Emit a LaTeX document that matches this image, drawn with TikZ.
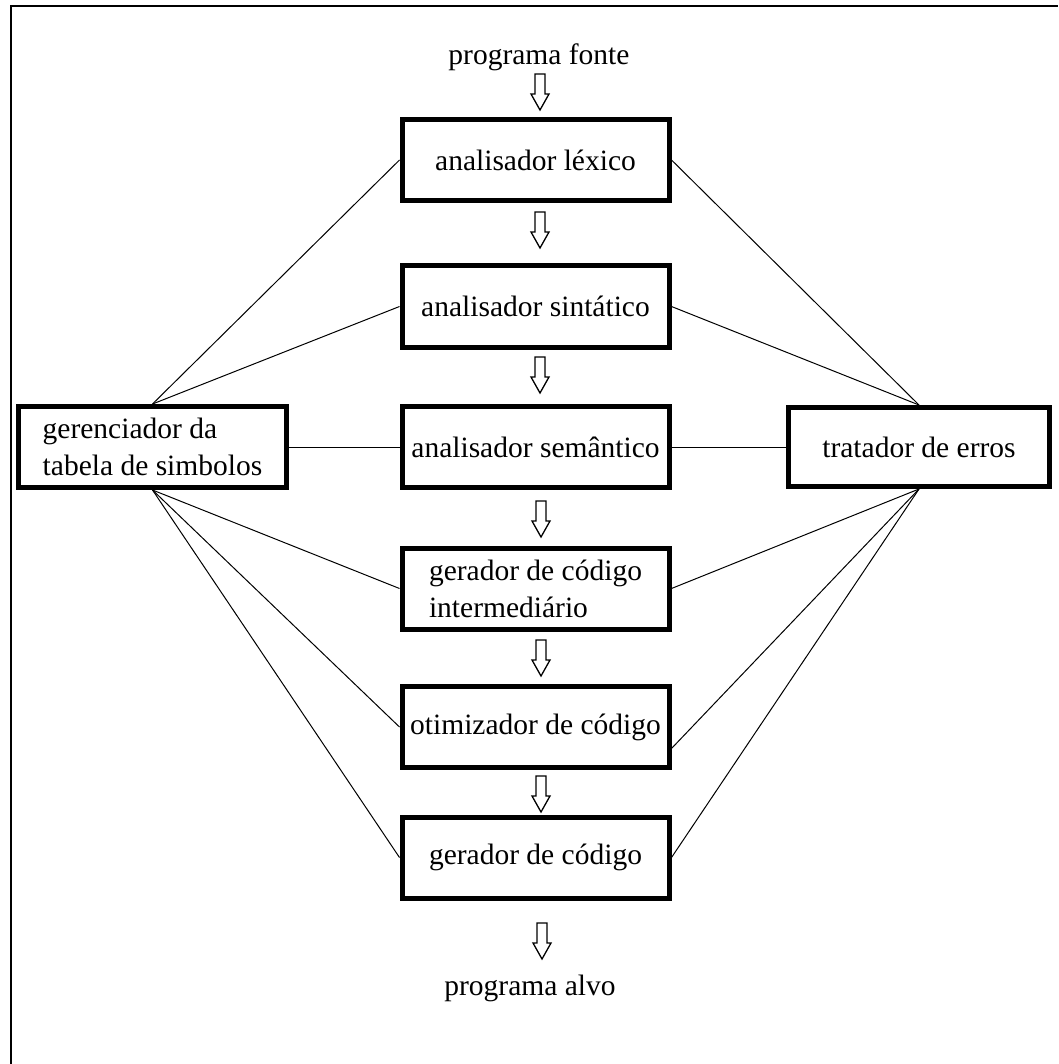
\documentclass[tikz,border=0pt]{standalone}
\usepackage{fontspec}
\setmainfont{Liberation Serif}
\usetikzlibrary{calc}
\begin{document}
\begin{tikzpicture}[x=1pt,y=-1pt,
  every node/.style={font=\fontsize{29.5}{37}\selectfont},
  stage/.style={draw, line width=5pt, minimum width=267pt, minimum height=81pt, inner sep=0pt, align=left},
  side/.style={draw, line width=5pt, minimum height=81pt, inner sep=0pt, align=left},
  label/.style={inner sep=0pt, anchor=base},
  link/.style={line width=1pt},
  frame/.style={line width=2pt},
  downarr/.pic={\draw[line width=1.3pt, fill=white] (-5,0) -- (-5,20) -- (-9,20) -- (0,36) -- (9,20) -- (5,20) -- (5,0) -- cycle;}
]
\useasboundingbox (0,0) rectangle (1058,1064);
\draw[frame] (10.5,1064) -- (10.5,6.5) -- (1058,6.5);

\node[label] (src) at (539,65) {programa fonte};
\node[stage] (lex) at (535.5,160) {analisador léxico};
\node[stage] (sin) at (535.5,306.5) {analisador sintático};
\node[stage] (sem) at (535.5,447) {analisador semântico};
\node[stage] (gci) at (535.5,588.5) {gerador de código\\intermediário};
\node[stage] (opt) at (535.5,727) {otimizador de código};
\node[stage] (gc) at (535.5,857.5) {gerador de código};
\node[label] (dst) at (530,995) {programa alvo};

\node[side, minimum width=268pt] (ger) at (152.5,447) {gerenciador da\\tabela de simbolos};
\node[side, minimum width=261pt, minimum height=79pt] (trat) at (919,447) {tratador de erros};

\pic at (540,74) {downarr};
\pic at (540,212) {downarr};
\pic at (540,357) {downarr};
\pic at (541,501) {downarr};
\pic at (541,640) {downarr};
\pic at (541,776) {downarr};
\pic at (542,923) {downarr};

\draw[link] (ger.north) -- (lex.west);
\draw[link] (ger.north) -- (sin.west);
\draw[link] (ger.east) -- (sem.west);
\draw[link] (ger.south) -- (gci.west);
\draw[link] (ger.south) -- (opt.west);
\draw[link] (ger.south) -- (gc.west);

\draw[link] (trat.north) -- (lex.east);
\draw[link] (trat.north) -- (sin.east);
\draw[link] (trat.west) -- (sem.east);
\draw[link] (trat.south) -- (gci.east);
\draw[link] (trat.south) -- ($(opt.east)!0.5!(opt.south east)$);
\draw[link] (trat.south) -- (gc.east);
\end{tikzpicture}
\end{document}
